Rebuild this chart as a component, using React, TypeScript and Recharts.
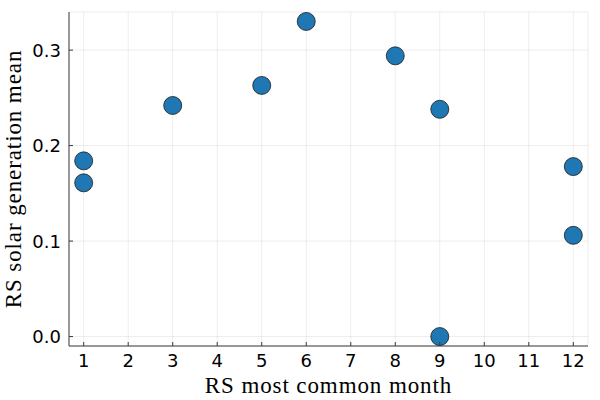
import React from "react";
import { ScatterChart, Scatter, XAxis, YAxis, CartesianGrid, Label } from "recharts";

const months = [1, 1, 3, 5, 6, 8, 9, 9, 12, 12];
const solarMeans = [0.184, 0.161, 0.242, 0.263, 0.330, 0.294, 0.238, 0.0, 0.178, 0.106];
const xTicks = [1, 2, 3, 4, 5, 6, 7, 8, 9, 10, 11, 12];
const yTicks = [0, 0.1, 0.2, 0.3];

const data = months.map((m, i) => ({ month: m, mean: solarMeans[i] }));

const AXIS_COLOR = "#3a3a3a";
const TICK_FONT = "DejaVu Sans, sans-serif";
const LABEL_FONT = "Liberation Serif, serif";

const XTick = (props: any) => {
  const { x, y, payload } = props;
  return (
    <g>
      <line x1={x} y1={y} x2={x} y2={y - 4} stroke={AXIS_COLOR} strokeWidth={1} />
      <text x={x} y={y + 21} textAnchor="middle" fontFamily={TICK_FONT} fontSize="18px" fill="#000">
        {String(payload.value)}
      </text>
    </g>
  );
};

const YTick = (props: any) => {
  const { x, y, payload } = props;
  return (
    <g>
      <line x1={x} y1={y} x2={x + 4} y2={y} stroke={AXIS_COLOR} strokeWidth={1} />
      <text x={x - 8} y={y + 6.5} textAnchor="end" fontFamily={TICK_FONT} fontSize="18px" fill="#000">
        {Number(payload.value).toFixed(1)}
      </text>
    </g>
  );
};

const Dot = (props: any) => {
  const { cx, cy } = props;
  return <circle cx={cx} cy={cy} r={9} fill="#1f77b4" stroke="#1a1a1a" strokeWidth={0.8} />;
};

export default function App() {
  return (
    <div style={{ position: "absolute", left: 0, top: 0, width: 600, height: 400, background: "#fff" }}>
      <ScatterChart width={600} height={400} margin={{ top: 12, right: 12, bottom: 0, left: 0 }}>
        <CartesianGrid stroke="#000" strokeOpacity={0.07} strokeWidth={1} />
        <XAxis
          type="number"
          dataKey="month"
          domain={[0.67, 12.33]}
          ticks={xTicks}
          allowDataOverflow
          height={54}
          tickSize={0}
          tickMargin={0}
          tickLine={false}
          axisLine={{ stroke: AXIS_COLOR, strokeWidth: 1 }}
          tick={<XTick />}
          interval={0}
        >
          <Label
            content={(p: any) => {
              const vb = p.viewBox;
              return (
                <text
                  x={vb.x + vb.width / 2}
                  y={vb.y + 46.5}
                  textAnchor="middle"
                  fontFamily={LABEL_FONT}
                  fontSize="23px"
                  letterSpacing={0.9}
                  fill="#000"
                >
                  RS most common month
                </text>
              );
            }}
          />
        </XAxis>
        <YAxis
          type="number"
          dataKey="mean"
          domain={[-0.0099, 0.3399]}
          ticks={yTicks}
          allowDataOverflow
          width={69}
          tickSize={0}
          tickMargin={0}
          tickLine={false}
          axisLine={{ stroke: AXIS_COLOR, strokeWidth: 1 }}
          tick={<YTick />}
          interval={0}
        >
          <Label
            content={(p: any) => {
              const vb = p.viewBox;
              const cx = 13;
              const cy = vb.y + vb.height / 2;
              return (
                <text
                  x={cx}
                  y={cy + 8}
                  transform={`rotate(-90, ${cx}, ${cy})`}
                  textAnchor="middle"
                  fontFamily={LABEL_FONT}
                  fontSize="23px"
                  letterSpacing={0.9}
                  fill="#000"
                >
                  RS solar generation mean
                </text>
              );
            }}
          />
        </YAxis>
        <Scatter data={data} shape={<Dot />} isAnimationActive={false} />
      </ScatterChart>
    </div>
  );
}
